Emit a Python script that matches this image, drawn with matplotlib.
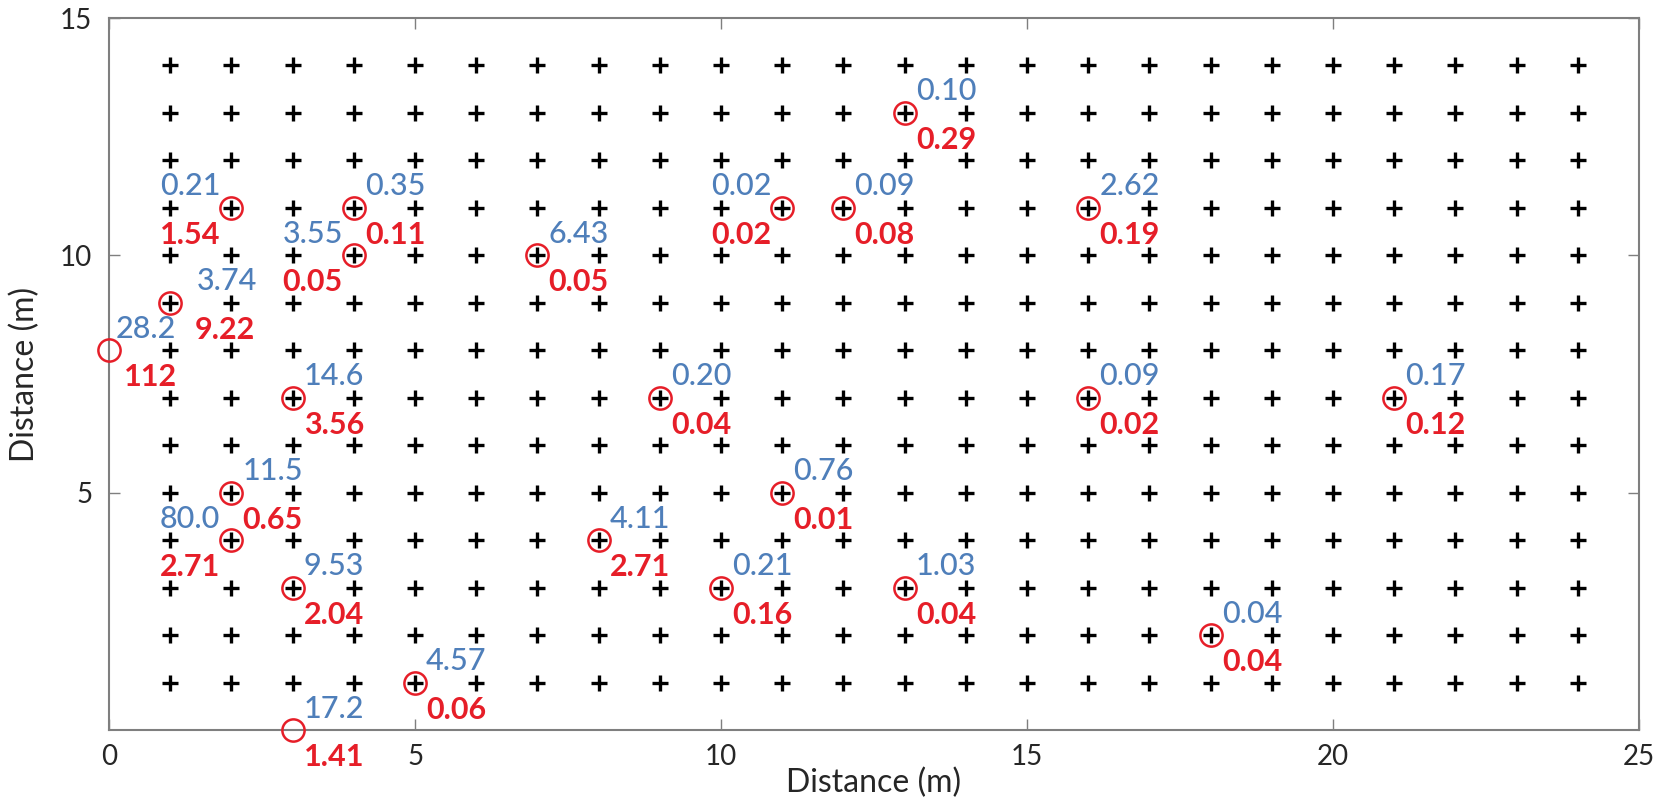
import matplotlib
matplotlib.use("Agg")
import matplotlib.pyplot as plt

# ---------------- data ----------------
grid_x = list(range(1, 25))
grid_y = list(range(1, 15))

site_x = [0, 1, 2, 4, 4, 7, 11, 12, 13, 16, 3, 9, 16, 21, 2, 2, 11, 8, 3, 10, 13, 18, 5, 3]
site_y = [8, 9, 11, 11, 10, 10, 11, 11, 13, 11, 7, 7, 7, 7, 5, 4, 5, 4, 3, 3, 3, 2, 1, 0]
blue_vals = [28.2, 3.74, 0.21, 0.35, 3.55, 6.43, 0.02, 0.09, 0.10, 2.62, 14.6, 0.20, 0.09, 0.17,
             11.5, 80.0, 0.76, 4.11, 9.53, 0.21, 1.03, 0.04, 4.57, 17.2]
red_vals = [112, 9.22, 1.54, 0.11, 0.05, 0.05, 0.02, 0.08, 0.29, 0.19, 3.56, 0.04, 0.02, 0.12,
            0.65, 2.71, 0.01, 2.71, 2.04, 0.16, 0.04, 0.04, 0.06, 1.41]
label_side = ['R', 'R', 'L', 'R', 'L', 'R', 'L', 'R', 'R', 'R', 'R', 'R', 'R', 'R',
              'R', 'L', 'R', 'R', 'R', 'R', 'R', 'R', 'R', 'R']

x_ticks = [0, 5, 10, 15, 20, 25]
y_ticks = [5, 10, 15]

# small extra horizontal nudges (points) for crowded label pairs: (blue, red)
label_nudge = {0: (-3, 3), 1: (11, 10)}


def fmt(v):
    if v < 10:
        return f"{v:.2f}"
    if v < 100:
        return f"{v:.1f}"
    return f"{v:.0f}"


plt.rcParams['font.family'] = ['Lato', 'DejaVu Sans']

BLUE = '#4F7FBA'
RED = '#E61E28'
AXC = '#7F7F7F'
TXT = '#262626'

fig = plt.figure(figsize=(16.62, 8.08), dpi=100)
ax = fig.add_axes([0.0656, 0.0965, 0.9206, 0.8812])

gx = [x for y in grid_y for x in grid_x]
gy = [y for y in grid_y for x in grid_x]
ax.plot(gx, gy, linestyle='none', marker='+', color='black', markersize=11, markeredgewidth=2.4, zorder=2)

ax.plot(site_x, site_y, linestyle='none', marker='o', markerfacecolor='none',
        markeredgecolor=RED, markersize=16, markeredgewidth=1.8, zorder=3, clip_on=False)

for i, (x, y, b, r, s) in enumerate(zip(site_x, site_y, blue_vals, red_vals, label_side)):
    if s == 'R':
        dx, ha = 8, 'left'
    else:
        dx, ha = -8, 'right'
    nb, nr = label_nudge.get(i, (0, 0))
    ax.annotate(fmt(b), (x, y), xytext=(dx + nb, 9), textcoords='offset points',
                ha=ha, va='baseline', color=BLUE, fontsize=22, fontweight='medium',
                annotation_clip=False, zorder=4)
    ax.annotate(fmt(r), (x, y), xytext=(dx + nr, -26), textcoords='offset points',
                ha=ha, va='baseline', color=RED, fontsize=22, fontweight='bold',
                annotation_clip=False, zorder=4)

ax.set_xlim(0, 25)
ax.set_ylim(0, 15)
ax.set_xticks(x_ticks)
ax.set_yticks(y_ticks)
ax.tick_params(direction='in', length=8, width=1, colors=AXC, labelcolor=TXT,
               labelsize=20, top=True, right=True)
ax.tick_params(axis='x', pad=10)
ax.tick_params(axis='y', pad=12)
for sp in ax.spines.values():
    sp.set_color(AXC)
    sp.set_linewidth(1.5)

ax.set_xlabel('Distance (m)', fontsize=23, color=TXT)
ax.set_ylabel('Distance (m)', fontsize=23, color=TXT)
ax.xaxis.set_label_coords(0.5, -0.053)
ax.yaxis.set_label_coords(-0.045, 0.5)

fig.savefig('out.png', dpi=100)
